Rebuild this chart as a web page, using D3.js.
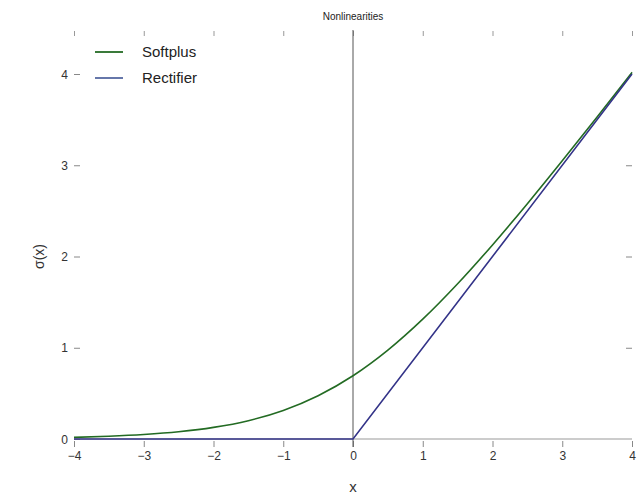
<!DOCTYPE html>
<meta charset="utf-8">
<style>
body { margin: 0; background: #fff; }
text { font-family: "Liberation Sans", Arial, sans-serif; }
</style>
<body>
<script src="https://cdn.jsdelivr.net/npm/d3@7/dist/d3.min.js"></script>
<script>

var width = 641, height = 498;

// values
var xs = [-4, -3.5, -3, -2.5, -2, -1.5, -1, -0.5, 0, 0.5, 1, 1.5, 2, 2.5, 3, 3.5, 4];
var softplus = [0.018, 0.030, 0.049, 0.079, 0.127, 0.201, 0.313, 0.474, 0.693, 0.974, 1.313, 1.701, 2.127, 2.579, 3.049, 3.530, 4.018];
var rectX = [-4, 0, 4];
var rectifier = [0, 0, 4];
var xTicks = [-4, -3, -2, -1, 0, 1, 2, 3, 4];
var yTicks = [0, 1, 2, 3, 4];
var seriesNames = ["Softplus", "Rectifier"];
var seriesColors = ["#236b23", "#333388"];

var x = d3.scaleLinear().domain([-4, 4]).range([74, 632]);
var y = d3.scaleLinear().domain([0, 4]).range([439, 74]);

var svg = d3.select("body").append("svg")
    .attr("width", width)
    .attr("height", height);

// top ticks
svg.append("g")
    .attr("transform", "translate(0,31)")
    .call(d3.axisBottom(x).tickValues(xTicks).tickSize(5).tickFormat(""))
    .call(function(g) { g.select(".domain").remove(); })
    .selectAll("line").attr("stroke", "#999");

// bottom axis
var bx = svg.append("g")
    .attr("transform", "translate(0,441)")
    .call(d3.axisBottom(x).tickValues(xTicks).tickSize(6).tickPadding(4).tickFormat(d3.format("d")));
bx.select(".domain").remove();
bx.selectAll("line").attr("stroke", "#888");
bx.selectAll("text").attr("font-size", 12).attr("fill", "#333")
    .text(function(d) { return d < 0 ? "\u2212" + (-d) : d; });

// left ticks (inward)
var ly = svg.append("g")
    .attr("transform", "translate(74,0)")
    .call(d3.axisRight(y).tickValues(yTicks).tickSize(6).tickFormat(""));
ly.select(".domain").remove();
ly.selectAll("line").attr("stroke", "#888");
ly.selectAll(".tick").append("text")
    .attr("x", -6).attr("dy", "0.35em")
    .attr("text-anchor", "end")
    .attr("font-size", 12).attr("fill", "#333")
    .text(function(d) { return d; });

// right ticks (inward)
var ry = svg.append("g")
    .attr("transform", "translate(632,0)")
    .call(d3.axisLeft(y).tickValues(yTicks.slice(1, 4)).tickSize(6).tickFormat(""));
ry.select(".domain").remove();
ry.selectAll("line").attr("stroke", "#888");

// reference lines
svg.append("line")
    .attr("x1", x(0)).attr("x2", x(0))
    .attr("y1", 30).attr("y2", 447)
    .attr("stroke", "#555").attr("stroke-width", 1);
svg.append("line")
    .attr("x1", x(-4)).attr("x2", x(4))
    .attr("y1", y(0)).attr("y2", y(0))
    .attr("stroke", "#999").attr("stroke-width", 1);

var line = d3.line()
    .x(function(d) { return x(d[0]); })
    .y(function(d) { return y(d[1]); });

svg.append("path")
    .datum(d3.zip(xs, softplus))
    .attr("d", line.curve(d3.curveMonotoneX))
    .attr("fill", "none")
    .attr("stroke", seriesColors[0])
    .attr("stroke-width", 1.6);

svg.append("path")
    .datum(d3.zip(rectX, rectifier))
    .attr("d", line.curve(d3.curveLinear))
    .attr("fill", "none")
    .attr("stroke", seriesColors[1])
    .attr("stroke-width", 1.6);

// legend
var leg = svg.append("g").selectAll("g")
    .data(seriesNames)
    .join("g")
    .attr("transform", function(d, i) { return "translate(95," + (52 + i * 26) + ")"; });
leg.append("line")
    .attr("x1", 0).attr("x2", 28)
    .attr("stroke", function(d, i) { return i ? "#6677aa" : "#3a7a3a"; })
    .attr("stroke-width", 2);
leg.append("text")
    .attr("x", 47).attr("dy", "0.35em")
    .attr("font-size", 15).attr("fill", "#222")
    .text(function(d) { return d; });

// labels
svg.append("text")
    .attr("x", x(0)).attr("y", 20)
    .attr("text-anchor", "middle")
    .attr("font-size", 10).attr("fill", "#222")
    .text("Nonlinearities");

svg.append("text")
    .attr("x", x(0)).attr("y", 492)
    .attr("text-anchor", "middle")
    .attr("font-size", 15).attr("fill", "#333")
    .text("x");

svg.append("text")
    .attr("transform", "translate(44," + y(2) + ") rotate(-90)")
    .attr("text-anchor", "middle")
    .attr("font-size", 14).attr("fill", "#333")
    .text("\u03c3(x)");

</script>
